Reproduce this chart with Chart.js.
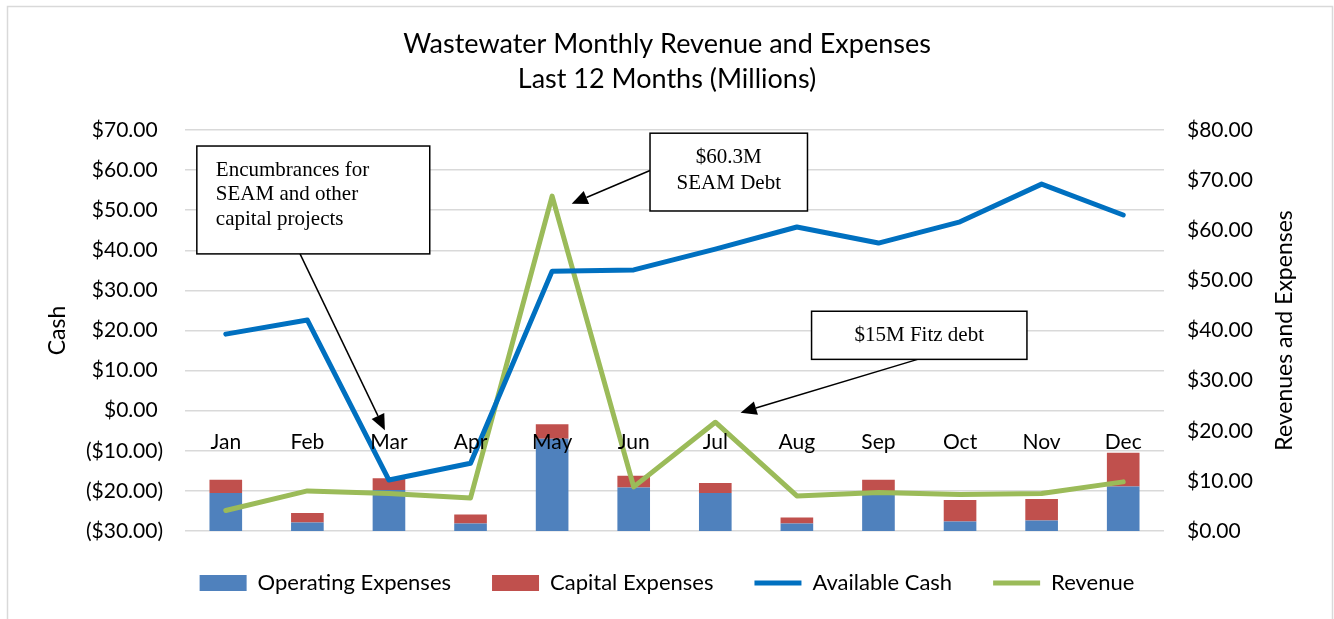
<!DOCTYPE html>
<html>
<head>
<meta charset="utf-8">
<script src="https://cdn.jsdelivr.net/npm/chart.js@4.4.1/dist/chart.umd.min.js"></script>
<style>
  html, body { margin: 0; padding: 0; background: #fff; }
  #wrap { width: 1334px; height: 619px; }
</style>
</head>
<body>
<div id="wrap"><canvas id="wastewaterChart" width="1334" height="619"></canvas></div>
<script>
// values, in millions
const months = ['Jan', 'Feb', 'Mar', 'Apr', 'May', 'Jun', 'Jul', 'Aug', 'Sep', 'Oct', 'Nov', 'Dec'];
const operatingExpenses = [7.6, 1.7, 8.2, 1.5, 18.4, 8.7, 7.6, 1.5, 7.2, 1.9, 2.1, 8.9];
const capitalExpenses = [2.6, 1.9, 2.3, 1.8, 2.9, 2.3, 2.0, 1.2, 3.0, 4.3, 4.3, 6.7];
const availableCash = [19.1, 22.6, -17.3, -13.1, 34.8, 35.1, 40.3, 45.8, 41.8, 47.1, 56.5, 48.8];
const revenue = [4.1, 8.0, 7.5, 6.6, 66.8, 8.8, 21.7, 7.0, 7.7, 7.3, 7.5, 9.8];

const FONT = 'Lato, "Open Sans", sans-serif';
const SERIF = '"Liberation Serif", "DejaVu Serif", serif';

// accounting style: negatives in brackets, positives leave room for the ")"
function money(v) {
    return v < 0 ? '($' + (-v).toFixed(2) + ')' : '$' + v.toFixed(2) + ' ';
}

// month names sit a little below the $0 line of the cash axis, as in Excel
const monthLabels = {
    id: 'monthLabels',
    afterDatasetsDraw(chart) {
        const { ctx, scales } = chart;
        const y = scales.y.getPixelForValue(0) + 32;
        ctx.save();
        ctx.font = '21px ' + FONT;
        ctx.fillStyle = '#000';
        ctx.textAlign = 'center';
        ctx.textBaseline = 'middle';
        months.forEach((m, i) => ctx.fillText(m, scales.x.getPixelForValue(i), y));
        ctx.restore();
    }
};

function arrow(ctx, x1, y1, x2, y2) {
    const a = Math.atan2(y2 - y1, x2 - x1);
    const len = 16, half = 7;
    const bx = x2 - len * Math.cos(a), by = y2 - len * Math.sin(a);
    ctx.beginPath();
    ctx.moveTo(x1, y1);
    ctx.lineTo(bx, by);
    ctx.stroke();
    ctx.beginPath();
    ctx.moveTo(x2, y2);
    ctx.lineTo(bx + half * Math.sin(a), by - half * Math.cos(a));
    ctx.lineTo(bx - half * Math.sin(a), by + half * Math.cos(a));
    ctx.closePath();
    ctx.fill();
}

// text boxes with arrows, placed in category / value units
const callouts = {
    id: 'callouts',
    afterDraw(chart) {
        const { ctx, scales } = chart;
        const px = i => scales.x.getPixelForValue(i);
        const py = v => scales.y.getPixelForValue(v);
        ctx.save();
        ctx.strokeStyle = '#000';
        ctx.fillStyle = '#000';
        ctx.lineWidth = 1.5;

        // Encumbrances box
        let x0 = px(-0.355), x1 = px(2.5), y0 = py(66.0), y1 = py(39.1);
        arrow(ctx, px(0.91), y1, px(1.95), py(-4.9));
        ctx.fillStyle = '#fff';
        ctx.fillRect(x0, y0, x1 - x0, y1 - y0);
        ctx.strokeRect(x0, y0, x1 - x0, y1 - y0);
        ctx.fillStyle = '#000';
        ctx.font = '21px ' + SERIF;
        ctx.textBaseline = 'middle';
        ctx.textAlign = 'left';
        ['Encumbrances for', 'SEAM and other', 'capital projects'].forEach((t, k) =>
            ctx.fillText(t, x0 + 19, y0 + 24 + k * 24.5));

        // SEAM debt box
        x0 = px(5.2); x1 = px(7.13); y0 = py(69.2); y1 = py(49.8);
        arrow(ctx, x0, py(59.9), px(4.24), py(51.6));
        ctx.fillStyle = '#fff';
        ctx.fillRect(x0, y0, x1 - x0, y1 - y0);
        ctx.strokeRect(x0, y0, x1 - x0, y1 - y0);
        ctx.fillStyle = '#000';
        ctx.textAlign = 'center';
        ctx.fillText('$60.3M', (x0 + x1) / 2, y0 + 24);
        ctx.fillText('SEAM Debt', (x0 + x1) / 2, y0 + 50);

        // Fitz debt box
        x0 = px(7.18); x1 = px(9.82); y0 = py(24.8); y1 = py(12.8);
        arrow(ctx, px(8.48), y1, px(6.31), py(-0.5));
        ctx.fillStyle = '#fff';
        ctx.fillRect(x0, y0, x1 - x0, y1 - y0);
        ctx.strokeRect(x0, y0, x1 - x0, y1 - y0);
        ctx.fillStyle = '#000';
        ctx.fillText('$15M Fitz debt', (x0 + x1) / 2, (y0 + y1) / 2);
        ctx.restore();
    }
};

// secondary axis title reads bottom-to-top, like the primary one
const rightTitle = {
    id: 'rightTitle',
    afterDraw(chart) {
        const { ctx, chartArea } = chart;
        ctx.save();
        ctx.translate(1285, (chartArea.top + chartArea.bottom) / 2);
        ctx.rotate(-Math.PI / 2);
        ctx.font = '23px ' + FONT;
        ctx.fillStyle = '#000';
        ctx.textAlign = 'center';
        ctx.textBaseline = 'middle';
        ctx.fillText('Revenues and Expenses', 0, 0);
        ctx.restore();
    }
};

const frame = {
    id: 'frame',
    beforeDraw(chart) {
        const { ctx } = chart;
        ctx.save();
        ctx.fillStyle = '#fff';
        ctx.fillRect(0, 0, chart.width, chart.height);
        ctx.strokeStyle = '#d9d9d9';
        ctx.lineWidth = 1.5;
        ctx.strokeRect(7.5, 6.5, 1325, 700);
        ctx.restore();
    }
};

const ctx = document.getElementById('wastewaterChart').getContext('2d');
new Chart(ctx, {
    type: 'bar',
    data: {
        labels: months,
        datasets: [{
            label: 'Operating Expenses',
            data: operatingExpenses,
            backgroundColor: '#4f81bd',
            borderWidth: 0,
            pointStyle: 'rect',
            stack: 'exp',
            yAxisID: 'y1',
            order: 1,
            barPercentage: 0.8,
            categoryPercentage: 0.5
        }, {
            label: 'Capital Expenses',
            data: capitalExpenses,
            backgroundColor: '#c0504d',
            borderWidth: 0,
            pointStyle: 'rect',
            stack: 'exp',
            yAxisID: 'y1',
            order: 1,
            barPercentage: 0.8,
            categoryPercentage: 0.5
        }, {
            type: 'line',
            label: 'Available Cash',
            data: availableCash,
            borderColor: '#0070c0',
            backgroundColor: '#0070c0',
            borderWidth: 5,
            borderCapStyle: 'round',
            borderJoinStyle: 'round',
            pointRadius: 0,
            pointStyle: 'line',
            tension: 0,
            yAxisID: 'y',
            order: 0
        }, {
            type: 'line',
            label: 'Revenue',
            data: revenue,
            borderColor: '#9bbb59',
            backgroundColor: '#9bbb59',
            borderWidth: 5,
            borderCapStyle: 'round',
            borderJoinStyle: 'round',
            pointRadius: 0,
            pointStyle: 'line',
            tension: 0,
            yAxisID: 'y1',
            order: 0
        }]
    },
    options: {
        responsive: false,
        animation: false,
        layout: {
            padding: { left: 10, right: 10, top: 0, bottom: 15 }
        },
        plugins: {
            title: {
                display: true,
                text: ['Wastewater Monthly Revenue and Expenses', 'Last 12 Months (Millions)'],
                color: '#000',
                font: { family: FONT, size: 27, weight: 'normal', lineHeight: 1.296 },
                padding: { top: 27, bottom: 33 }
            },
            legend: {
                position: 'bottom',
                labels: {
                    usePointStyle: true,
                    pointStyleWidth: 47,
                    boxHeight: 16,
                    padding: 41,
                    color: '#000',
                    font: { family: FONT, size: 22 },
                    sort: (a, b) => a.datasetIndex - b.datasetIndex
                }
            },
            tooltip: { enabled: false }
        },
        scales: {
            x: {
                display: false
            },
            y: {
                position: 'left',
                min: -30,
                max: 70,
                ticks: {
                    stepSize: 10,
                    padding: 22,
                    color: '#000',
                    font: { family: FONT, size: 21 },
                    callback: v => money(v)
                },
                grid: { color: '#d9d9d9', lineWidth: 1.5, drawTicks: false },
                border: { display: false },
                title: {
                    display: true,
                    text: 'Cash',
                    color: '#000',
                    font: { family: FONT, size: 23 },
                    padding: { top: 34, bottom: 0 }
                },
                afterFit: scale => { scale.width = 175; }
            },
            y1: {
                position: 'right',
                min: 0,
                max: 80,
                ticks: {
                    stepSize: 10,
                    padding: 23,
                    color: '#000',
                    font: { family: FONT, size: 21 },
                    callback: v => '$' + v.toFixed(2)
                },
                grid: { display: false, drawTicks: false },
                border: { display: false },
                afterFit: scale => { scale.width = 160; }
            }
        }
    },
    plugins: [frame, monthLabels, callouts, rightTitle]
});
</script>
</body>
</html>
